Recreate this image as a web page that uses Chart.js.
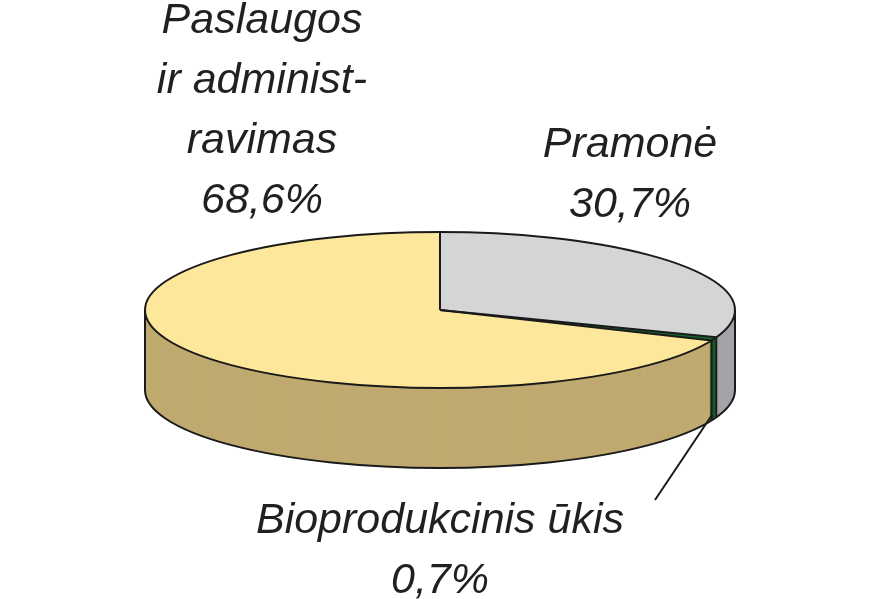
<!DOCTYPE html>
<html><head><meta charset="utf-8">
<script src="https://cdn.jsdelivr.net/npm/chart.js@4"></script>
<style>
html,body{margin:0;padding:0;background:#fff;}
#wrap{position:relative;width:880px;height:599px;}
canvas{position:absolute;left:0;top:0;}
.lbl{position:absolute;font-family:"Liberation Sans",Arial,sans-serif;font-style:italic;font-size:43px;color:#231f20;text-align:center;line-height:60px;white-space:nowrap;transform:translateX(-50%);}
</style></head><body>
<div id="wrap">
<canvas id="c" width="880" height="599"></canvas>
<div class="lbl" style="left:262px;top:-12px">Paslaugos<br>ir administ-<br>ravimas<br>68,6%</div>
<div class="lbl" style="left:630px;top:112px">Pramonė<br>30,7%</div>
<div class="lbl" style="left:440px;top:488px">Bioprodukcinis ūkis<br>0,7%</div>
</div>
<script>
const labels = ["Pramonė", "Bioprodukcinis ūkis", "Paslaugos ir administravimas"];
const values = [30.7, 0.7, 68.6];
const topColors = ["#d4d5d7", "#17692e", "#fde79a"];
const sideColors = ["#a3a4a7", "#0d5a22", "#bfaa70"];

const CX = 440, CY = 310, RX = 295, RY = 78, DEPTH = 80;

const pie3d = {
  id: "pie3d",
  beforeDatasetsDraw(chart) {
    const ctx = chart.ctx;
    const arcs = chart.getDatasetMeta(0).data;
    const k = RY / RX;
    for (let d = DEPTH; d >= 1; d--) {
      arcs.forEach((a, i) => {
        const p = a.getProps(["x", "y", "startAngle", "endAngle", "outerRadius"]);
        ctx.save();
        ctx.translate(CX, CY + d);
        ctx.scale(RX / p.outerRadius, k * RX / p.outerRadius);
        ctx.translate(-p.x, -p.y);
        ctx.beginPath();
        ctx.moveTo(p.x, p.y);
        ctx.arc(p.x, p.y, p.outerRadius, p.startAngle, p.endAngle);
        ctx.closePath();
        ctx.fillStyle = sideColors[i];
        ctx.fill();
        ctx.restore();
      });
    }
    ctx.save();
    const p0 = arcs[0].getProps(["x", "y", "outerRadius"]);
    ctx.translate(CX, CY);
    ctx.scale(RX / p0.outerRadius, k * RX / p0.outerRadius);
    ctx.translate(-p0.x, -p0.y);
  },
  afterDatasetsDraw(chart) {
    const ctx = chart.ctx;
    ctx.restore();
    const arcs = chart.getDatasetMeta(0).data;
    ctx.save();
    ctx.strokeStyle = "#1a1a1a";
    ctx.lineWidth = 2;
    ctx.lineJoin = "round";
    ctx.beginPath();
    ctx.ellipse(CX, CY, RX, RY, 0, 0, Math.PI * 2);
    ctx.stroke();
    ctx.beginPath();
    ctx.ellipse(CX, CY + DEPTH, RX, RY, 0, 0, Math.PI);
    ctx.stroke();
    ctx.beginPath();
    ctx.moveTo(CX - RX, CY); ctx.lineTo(CX - RX, CY + DEPTH);
    ctx.moveTo(CX + RX, CY); ctx.lineTo(CX + RX, CY + DEPTH);
    ctx.stroke();
    arcs.forEach((a) => {
      const p = a.getProps(["startAngle", "endAngle"]);
      [p.startAngle].forEach(ang => {
        const x = CX + RX * Math.cos(ang), y = CY + RY * Math.sin(ang);
        ctx.beginPath();
        ctx.moveTo(CX, CY); ctx.lineTo(x, y);
        if (Math.sin(ang) > 0) ctx.lineTo(x, y + DEPTH);
        ctx.stroke();
      });
    });
    // leader line to small slice
    const g = arcs[1].getProps(["startAngle", "endAngle"]);
    const m = (g.startAngle + g.endAngle) / 2;
    const lx = CX + RX * Math.cos(m), ly = CY + RY * Math.sin(m) + DEPTH;
    ctx.lineWidth = 2;
    ctx.beginPath();
    ctx.moveTo(lx - 2, ly - 4); ctx.lineTo(655, 500);
    ctx.stroke();
    ctx.restore();
  }
};

new Chart(document.getElementById("c"), {
  type: "pie",
  data: { labels, datasets: [{ data: values, backgroundColor: topColors, borderWidth: 0 }] },
  options: {
    responsive: false, animation: false,
    layout: { padding: { left: 145, right: 145, top: 4, bottom: 5 } },
    plugins: { legend: { display: false }, tooltip: { enabled: false } }
  },
  plugins: [pie3d]
});
</script>
</body></html>
